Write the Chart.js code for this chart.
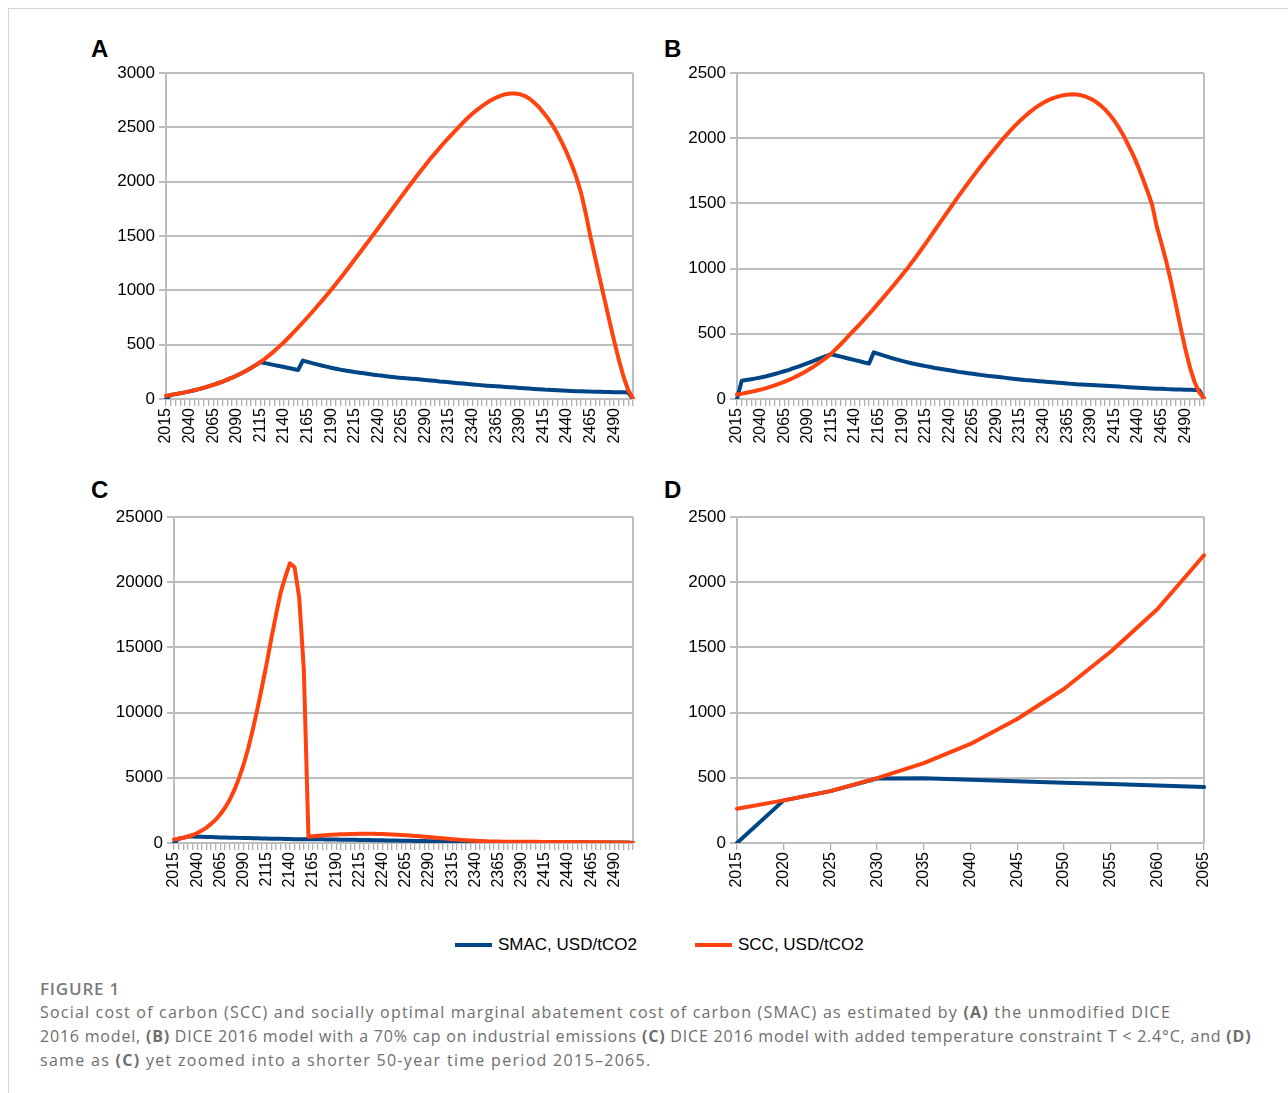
<!DOCTYPE html>
<html>
<head>
<meta charset="utf-8">
<script src="https://cdn.jsdelivr.net/npm/chart.js@4/dist/chart.umd.min.js"></script>
<style>
  body { margin: 0; background: #fff; width: 1288px; height: 1093px; position: relative; overflow: hidden; }
  .frame { position: absolute; left: 8px; top: 8px; right: 0; bottom: 0; border-left: 1px solid #d6d6d6; border-top: 1px solid #d6d6d6; }
  canvas { position: absolute; }
  .letter { position: absolute; font: bold 24px "Liberation Sans", Arial, sans-serif; line-height: 24px; color: #000; }
  .legend { position: absolute; top: 935px; height: 20px; font: 17px "Liberation Sans", Arial, sans-serif; line-height: 20px; color: #000; }
  .legend span.swatch { position: absolute; top: 8px; width: 37px; height: 4px; }
  .legend span.text { position: absolute; left: 43px; top: 0; white-space: nowrap; }
  .fig { position: absolute; left: 40px; top: 977px; font: 600 17px "Open Sans", sans-serif; line-height: 24px; color: #7a7a7a; letter-spacing: 0.8px; }
  .cap { position: absolute; left: 40px; top: 1000px; font: 16px "Open Sans", sans-serif; line-height: 24px; color: #6e6e6e; white-space: nowrap; }
  .cap span { display: block; }
  .cap b { font-weight: 700; }
</style>
</head>
<body>
<div class="frame"></div>

<div class="letter" style="left:91px; top:37px;">A</div>
<div class="letter" style="left:664px; top:37px;">B</div>
<div class="letter" style="left:91px; top:478px;">C</div>
<div class="letter" style="left:664px; top:478px;">D</div>

<canvas id="chartA" width="540" height="396" style="left:100px; top:63px;"></canvas>
<canvas id="chartB" width="540" height="396" style="left:671px; top:63px;"></canvas>
<canvas id="chartC" width="540" height="396" style="left:100px; top:507px;"></canvas>
<canvas id="chartD" width="540" height="396" style="left:671px; top:507px;"></canvas>

<div class="legend" style="left:455px;"><span class="swatch" style="background:#004586;"></span><span class="text">SMAC, USD/tCO2</span></div>
<div class="legend" style="left:695px;"><span class="swatch" style="background:#ff420e;"></span><span class="text">SCC, USD/tCO2</span></div>

<div class="fig">FIGURE 1</div>
<div class="cap">
  <span style="letter-spacing:1.2px;">Social cost of carbon (SCC) and socially optimal marginal abatement cost of carbon (SMAC) as estimated by <b>(A)</b> the unmodified DICE</span>
  <span style="letter-spacing:0.8px;">2016 model, <b>(B)</b> DICE 2016 model with a 70% cap on industrial emissions <b>(C)</b> DICE 2016 model with added temperature constraint T &lt; 2.4°C, and <b>(D)</b></span>
  <span style="letter-spacing:1.3px;">same as <b>(C)</b> yet zoomed into a shorter 50-year time period 2015–2065.</span>
</div>

<script>
const blue = '#004586';
const orange = '#ff420e';
const gridColor = '#bdbdbd';

// 5-year DICE periods
const yearsLong = [
  '2015','2020','2025','2030','2035','2040','2045','2050','2055','2060',
  '2065','2070','2075','2080','2085','2090','2095','2100','2105','2110',
  '2115','2120','2125','2130','2135','2140','2145','2150','2155','2160',
  '2165','2170','2175','2180','2185','2190','2195','2200','2205','2210',
  '2215','2220','2225','2230','2235','2240','2245','2250','2255','2260',
  '2265','2270','2275','2280','2285','2290','2295','2300','2305','2310',
  '2315','2320','2325','2330','2335','2340','2345','2350','2355','2360',
  '2365','2370','2375','2380','2385','2390','2395','2400','2405','2410',
  '2415','2420','2425','2430','2435','2440','2445','2450','2455','2460',
  '2465','2470','2475','2480','2485','2490','2495','2500','2505','2510'
];
const yearsShort = ['2015','2020','2025','2030','2035','2040','2045','2050','2055','2060','2065'];

// A: unmodified DICE 2016
const smacA = [
  0, 37, 45, 53, 61, 70, 80, 91, 103, 116,
  130, 145, 161, 178, 196, 216, 237, 260, 285, 312,
  338, 330, 321, 312, 303, 294, 285, 276, 267, 353,
  341, 330, 319, 308, 298, 288, 279, 270, 262, 255,
  248, 242, 236, 230, 224, 218, 213, 208, 203, 198,
  194, 190, 187, 184, 180, 175, 171, 167, 162, 158,
  154, 150, 146, 142, 138, 134, 130, 126, 123, 120,
  117, 114, 111, 108, 105, 102, 99, 96, 93, 90,
  87, 84, 82, 80, 78, 76, 74, 72, 71, 70,
  68, 67, 66, 65, 64, 63, 62, 61, 60, 0
];
const sccA = [
  30, 37, 45, 53, 61, 70, 80, 91, 103, 116,
  130, 145, 161, 178, 196, 216, 237, 260, 285, 312,
  340, 372, 406, 443, 482, 522, 566, 611, 657, 704,
  752, 801, 851, 901, 952, 1004, 1058, 1113, 1169, 1226,
  1283, 1341, 1399, 1457, 1515, 1574, 1633, 1692, 1751, 1810,
  1869, 1928, 1986, 2043, 2099, 2154, 2208, 2260, 2311, 2360,
  2408, 2454, 2500, 2545, 2588, 2627, 2663, 2696, 2726, 2752,
  2774, 2792, 2805, 2812, 2812, 2805, 2790, 2765, 2730, 2688,
  2636, 2580, 2515, 2440, 2355, 2262, 2158, 2040, 1895, 1705,
  1490, 1295, 1100, 910, 720, 535, 360, 205, 80, 5
];

// B: 70% cap on industrial emissions
const smacB = [
  0, 140, 146, 152, 158, 165, 173, 182, 192, 202,
  213, 224, 236, 248, 261, 275, 289, 303, 317, 331,
  343, 334, 325, 316, 307, 298, 289, 280, 272, 358,
  346, 334, 323, 312, 302, 292, 283, 274, 266, 259,
  252, 245, 238, 232, 226, 220, 214, 208, 203, 198,
  193, 188, 183, 178, 174, 170, 166, 162, 158, 154,
  150, 146, 143, 140, 137, 134, 131, 128, 125, 122,
  119, 116, 113, 111, 109, 107, 105, 103, 101, 99,
  97, 95, 93, 91, 89, 87, 85, 83, 81, 79,
  78, 76, 75, 73, 72, 71, 70, 69, 68, 0
];
const sccB = [
  35, 41, 48, 55, 63, 72, 82, 93, 105, 118,
  132, 147, 163, 181, 200, 221, 243, 267, 292, 319,
  348, 385, 420, 458, 498, 535, 573, 612, 652, 693,
  735, 777, 820, 863, 907, 951, 996, 1044, 1093, 1143,
  1194, 1246, 1298, 1350, 1402, 1454, 1506, 1557, 1607, 1656,
  1705, 1753, 1800, 1846, 1891, 1935, 1978, 2020, 2060, 2098,
  2134, 2167, 2198, 2226, 2251, 2273, 2292, 2307, 2319, 2328,
  2334, 2337, 2335, 2329, 2318, 2302, 2281, 2254, 2221, 2181,
  2134, 2079, 2016, 1944, 1870, 1786, 1693, 1595, 1490, 1320,
  1190, 1055, 900, 730, 555, 390, 245, 130, 50, 5
];

// C: temperature constraint T < 2.4°C
const smacC = [
  0, 327, 398, 495, 497, 485, 473, 462, 452, 441,
  429, 420, 411, 402, 393, 384, 375, 366, 358, 350,
  342, 334, 326, 318, 310, 303, 296, 289, 282, 300,
  294, 288, 282, 276, 270, 264, 258, 252, 246, 240,
  234, 228, 222, 216, 210, 204, 198, 192, 186, 179,
  172, 165, 158, 152, 146, 140, 134, 128, 123, 118,
  113, 108, 104, 100, 96, 93, 90, 87, 84, 81,
  79, 77, 75, 73, 71, 69, 67, 65, 63, 61,
  59, 57, 55, 54, 53, 52, 51, 50, 49, 48,
  47, 46, 45, 44, 43, 42, 41, 40, 39, 0
];
const sccC = [
  263, 327, 398, 497, 612, 760, 951, 1181, 1467, 1793,
  2207, 2700, 3300, 4050, 4950, 6000, 7250, 8700, 10300, 12000,
  13800, 15700, 17500, 19200, 20400, 21450, 21150, 18850, 13300, 480,
  520, 555, 585, 610, 632, 650, 665, 677, 687, 695,
  700, 703, 703, 700, 694, 685, 673, 658, 640, 620,
  597, 572, 545, 516, 486, 455, 423, 391, 359, 327,
  296, 266, 237, 210, 186, 165, 147, 132, 121, 113,
  107, 103, 100, 97, 95, 93, 91, 89, 87, 85,
  83, 81, 79, 77, 75, 73, 71, 69, 67, 65,
  62, 59, 56, 52, 48, 43, 37, 29, 18, 5
];

// D: same as C, 2015-2065 only
const smacD = [0, 327, 398, 495, 497, 485, 473, 462, 452, 441, 429];
const sccD = [263, 327, 398, 497, 612, 760, 951, 1181, 1467, 1793, 2207];

const rightBorder = {
  id: 'rightBorder',
  beforeDatasetsDraw(chart) {
    const {ctx, chartArea} = chart;
    ctx.save();
    ctx.strokeStyle = gridColor;
    ctx.lineWidth = 2;
    ctx.beginPath();
    ctx.moveTo(chartArea.right, chartArea.top);
    ctx.lineTo(chartArea.right, chartArea.bottom);
    ctx.stroke();
    ctx.restore();
  }
};

function makeChart(id, labels, smac, scc, yMax, yStep, yWidth, labelEvery) {
  const ctx = document.getElementById(id).getContext('2d');
  return new Chart(ctx, {
    type: 'line',
    data: {
      labels: labels,
      datasets: [
        {label: 'SMAC, USD/tCO2', data: smac, borderColor: blue, borderWidth: 4, order: 1},
        {label: 'SCC, USD/tCO2', data: scc, borderColor: orange, borderWidth: 4, order: 0}
      ]
    },
    options: {
      responsive: false,
      animation: false,
      devicePixelRatio: 1,
      layout: {padding: {top: 10, right: 7, left: 0, bottom: 0}},
      elements: {
        point: {radius: 0, hoverRadius: 0},
        line: {tension: 0, fill: false, borderJoinStyle: 'round', borderCapStyle: 'round'}
      },
      plugins: {legend: {display: false}, tooltip: {enabled: false}},
      scales: {
        x: {
          type: 'category',
          offset: false,
          grid: {drawOnChartArea: false, drawTicks: true, tickLength: 7, color: '#b0b0b0', lineWidth: 1.3},
          border: {display: true, color: gridColor, width: 2},
          ticks: {
            autoSkip: false,
            minRotation: 90,
            maxRotation: 90,
            padding: 2,
            color: '#000',
            font: {family: 'Liberation Sans', size: 16},
            callback: (v, i) => (i % labelEvery === 0 ? labels[i] : '')
          },
          afterFit: (s) => { s.height = 60; s.paddingLeft = 0; s.paddingRight = 0; }
        },
        y: {
          min: 0,
          max: yMax,
          grid: {color: gridColor, lineWidth: 2, tickLength: 7},
          border: {display: true, color: gridColor, width: 2},
          ticks: {
            stepSize: yStep,
            padding: 4,
            color: '#000',
            font: {family: 'Liberation Sans', size: 17},
            callback: (v) => String(v)
          },
          afterFit: (s) => { s.width = yWidth; s.paddingTop = 0; s.paddingBottom = 0; }
        }
      }
    },
    plugins: [rightBorder]
  });
}

makeChart('chartA', yearsLong, smacA, sccA, 3000, 500, 66, 5);
makeChart('chartB', yearsLong, smacB, sccB, 2500, 500, 66, 5);
makeChart('chartC', yearsLong, smacC, sccC, 25000, 5000, 74, 5);
makeChart('chartD', yearsShort, smacD, sccD, 2500, 500, 66, 1);
</script>
</body>
</html>
